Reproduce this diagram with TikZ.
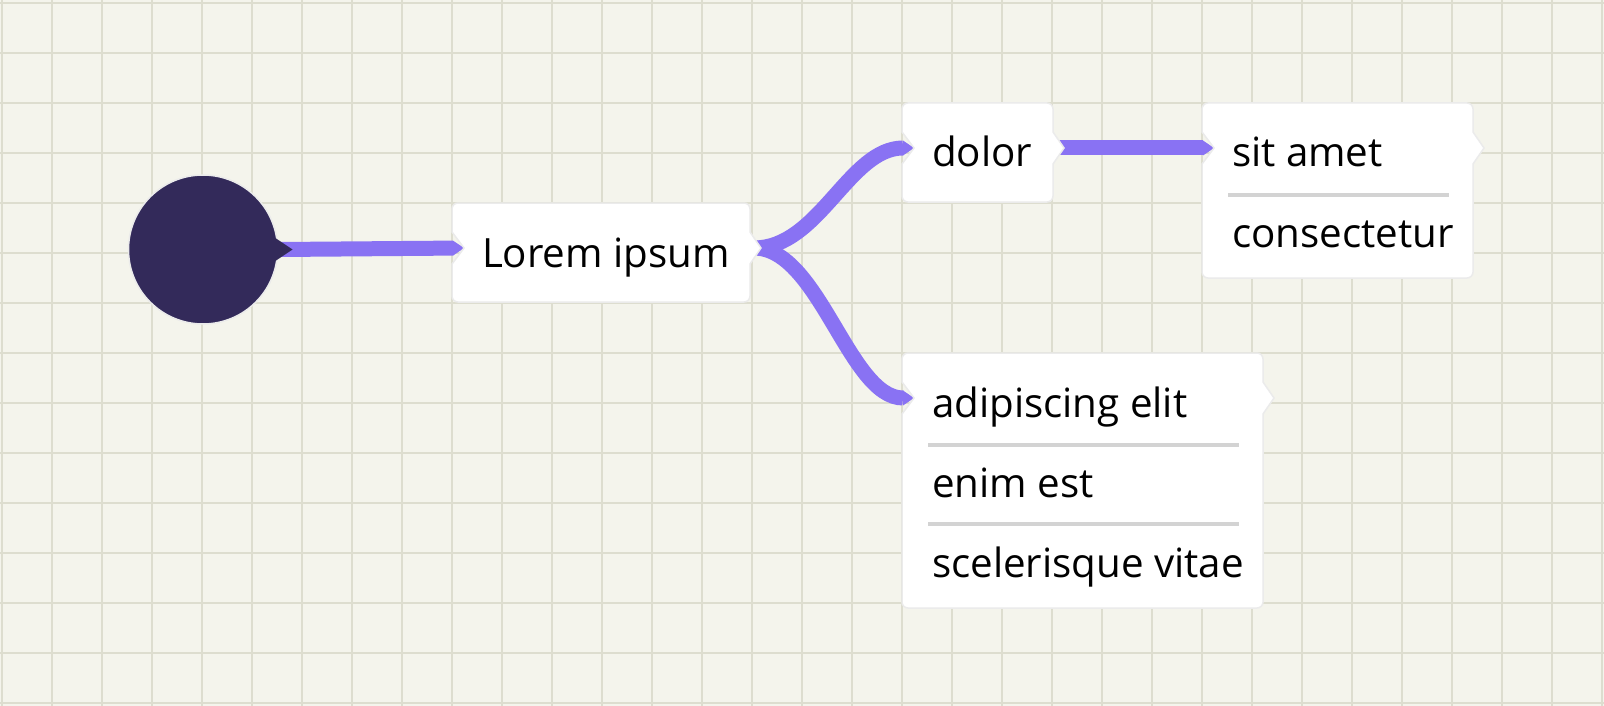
\documentclass[tikz,border=0pt]{standalone}
\usepackage{fontspec}
\setmainfont{Open Sans}
\usetikzlibrary{arrows.meta}
\definecolor{bgc}{RGB}{244,244,236}
\definecolor{gridc}{RGB}{221,221,207}
\definecolor{linkc}{RGB}{137,114,243}
\definecolor{dotc}{RGB}{51,42,90}
\definecolor{divc}{RGB}{211,211,211}
\pgfdeclarelayer{gridlayer}
\pgfdeclarelayer{linklayer}
\pgfsetlayers{gridlayer,linklayer,main}
\tikzset{
  cardbox/.style={rectangle, inner sep=0pt, outer sep=0pt, draw=none},
  cardfill/.style={fill=white, draw=black!8, line width=1.5pt},
  lbl/.style={inner sep=0pt, outer sep=0pt, anchor=base west, font=\fontsize{40.3}{48}\selectfont, text=black},
  link/.style={draw=linkc, line width=15pt, -{Triangle[length=11pt 0 0, width=15pt 0 0, line width=0pt]}},
  divline/.style={draw=divc, line width=3.5pt},
  gridline/.style={draw=gridc, line width=2pt},
}
\newcommand\mkcard[5]{%
  \node[cardbox, minimum width=#4pt, minimum height=#5pt, anchor=north west] (#1) at (#2,#3) {};
  \coordinate (#1-in) at ([xshift=12pt,yshift=-45pt]#1.north west);
  \coordinate (#1-out) at ([xshift=4pt,yshift=-45pt]#1.north east);
  \path[cardfill]
    ([xshift=6pt]#1.north west) -- ([xshift=-6pt]#1.north east)
    arc[start angle=90,end angle=0,radius=6pt]
    -- ([yshift=-29pt]#1.north east) -- ([xshift=11pt,yshift=-45pt]#1.north east) -- ([yshift=-61pt]#1.north east)
    -- ([yshift=6pt]#1.south east)
    arc[start angle=0,end angle=-90,radius=6pt]
    -- ([xshift=6pt]#1.south west)
    arc[start angle=270,end angle=180,radius=6pt]
    -- ([yshift=-61pt]#1.north west) -- (#1-in) -- ([yshift=-29pt]#1.north west)
    -- ([yshift=-6pt]#1.north west)
    arc[start angle=180,end angle=90,radius=6pt]
    -- cycle;
}
\begin{document}
\begin{tikzpicture}[x=1pt,y=-1pt]
\useasboundingbox (0,0) rectangle (1604,706);
\begin{pgfonlayer}{gridlayer}
  \fill[bgc] (0,0) rectangle (1604,706);
  \foreach \i in {0,...,32} \draw[gridline] (1.5+50*\i,0) -- (1.5+50*\i,706);
  \foreach \j in {0,...,14} \draw[gridline] (0,3+50*\j) -- (1604,3+50*\j);
\end{pgfonlayer}

% start circle
\node[circle, fill=dotc, draw=black!8, line width=1.5pt, minimum size=149pt, inner sep=0pt, outer sep=0pt] (start) at (203,249.5) {};
\fill[dotc] ([xshift=-12pt,yshift=18pt]start.east) -- ([xshift=15pt]start.east) -- ([xshift=-12pt,yshift=-18pt]start.east) -- cycle;
\coordinate (start-out) at ([xshift=2pt]start.east);

% cards
\mkcard{lorem}{452}{203}{298}{99}
\node[lbl] (t-lorem) at ([xshift=30pt,yshift=-64pt]lorem.north west) {Lorem ipsum};

\mkcard{dolor}{902}{103}{151}{99}
\node[lbl] (t-dolor) at ([xshift=30pt,yshift=-64pt]dolor.north west) {dolor};

\mkcard{sit}{1202}{103}{271}{175}
\node[lbl] (t-sit1) at ([xshift=30pt,yshift=-64pt]sit.north west) {sit amet};
\draw[divline] ([xshift=26pt,yshift=-92pt]sit.north west) -- ([xshift=-24pt,yshift=-92pt]sit.north east);
\node[lbl] (t-sit2) at ([xshift=30pt,yshift=-144pt]sit.north west) {consectetur};

\mkcard{adip}{902}{353}{361}{255}
\node[lbl] (t-adip1) at ([xshift=30pt,yshift=-64pt]adip.north west) {adipiscing elit};
\draw[divline] ([xshift=26pt,yshift=-92pt]adip.north west) -- ([xshift=-24pt,yshift=-92pt]adip.north east);
\node[lbl] (t-adip2) at ([xshift=30pt,yshift=-144pt]adip.north west) {enim est};
\draw[divline] ([xshift=26pt,yshift=-171pt]adip.north west) -- ([xshift=-24pt,yshift=-171pt]adip.north east);
\node[lbl] (t-adip3) at ([xshift=30pt,yshift=-224pt]adip.north west) {scelerisque vitae};

% links
\begin{pgfonlayer}{linklayer}
  \draw[link] (start-out) -- (lorem-in);
  \draw[link] (lorem-out) .. controls +(65pt,0pt) and +(-65pt,0pt) .. (dolor-in);
  \draw[link] (lorem-out) .. controls +(65pt,0pt) and +(-65pt,0pt) .. (adip-in);
  \draw[link] (dolor-out) -- (sit-in);
\end{pgfonlayer}
\end{tikzpicture}
\end{document}
